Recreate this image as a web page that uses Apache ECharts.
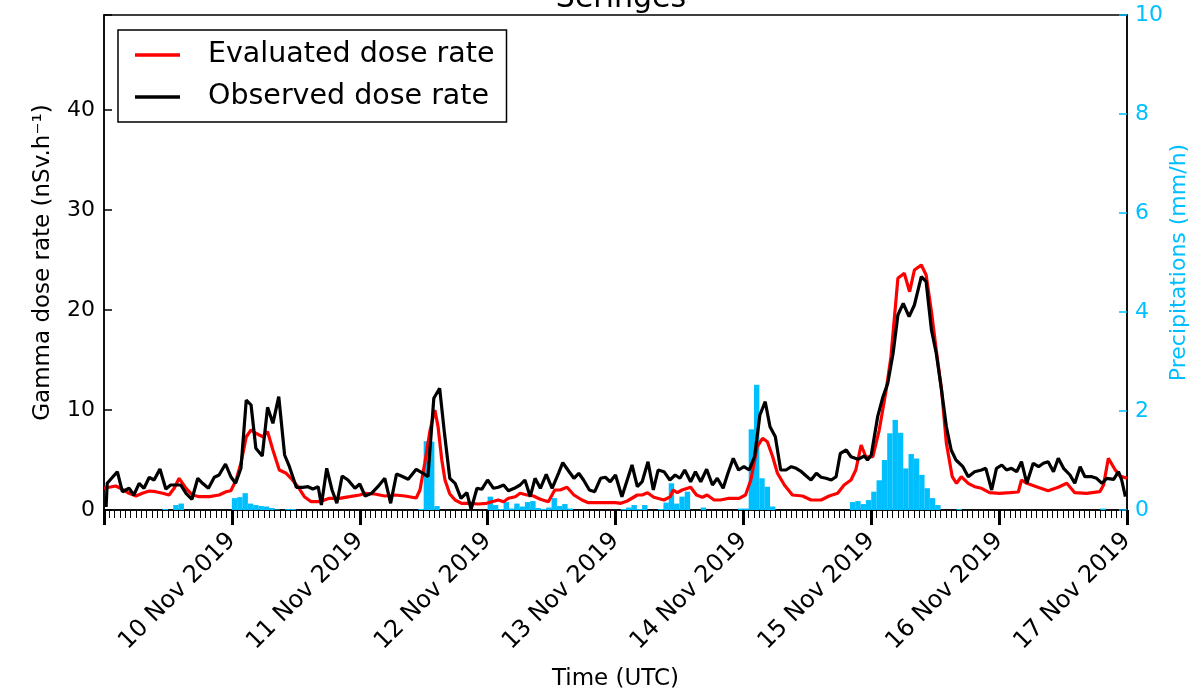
<!DOCTYPE html>
<html>
<head>
<meta charset="utf-8">
<script src="https://cdn.jsdelivr.net/npm/echarts@6/dist/echarts.min.js"></script>
<style>
  html, body { margin: 0; background: #fff; }
  #chart { width: 1190px; height: 690px; }
</style>
</head>
<body>
<div id="chart"></div>
<script>
// hours since 9 Nov 2019 00:00 UTC
const dayLabels = ['', '10 Nov 2019', '11 Nov 2019', '12 Nov 2019', '13 Nov 2019',
  '14 Nov 2019', '15 Nov 2019', '16 Nov 2019', '17 Nov 2019'];

// evaluated dose rate, nSv/h  [hour, value]
const evaluated = [
  [0,2.17],[2.2,2.4],[3.45,2.07],[4.7,1.67],[6,1.4],[7.2,1.67],[8.5,1.9],[9.7,1.83],[11,1.67],[12.2,1.5],
  [13.2,2.2],[14.1,3.17],[15.4,2.17],[16.6,1.5],[17.9,1.33],[19.8,1.33],[21.6,1.5],[22.9,1.83],[23.8,1.93],
  [24.8,3.0],[25.7,4.67],[26.7,7.33],[27.6,8.0],[28.5,7.67],[29.8,7.33],[30.7,7.83],[31.7,6.0],[32.9,4.0],
  [34.2,3.67],[35.1,3.17],[36.4,2.33],[37.6,1.33],[38.9,0.83],[40.5,0.83],[42.3,1.17],[44.2,1.17],[46.1,1.33],
  [48,1.5],[49,1.67],[50.8,1.6],[52.7,1.4],[54.6,1.5],[56.5,1.4],[58.6,1.2],[59.3,2.0],[60.2,4.67],[61.2,8.0],
  [62.1,10.0],[62.7,8.33],[63.4,5.0],[64,3.0],[64.9,1.6],[65.9,1.0],[67.1,0.67],[68.7,0.67],[70.3,0.6],
  [71.8,0.67],[72.8,0.83],[74,1.0],[75,0.83],[75.9,1.17],[77.2,1.33],[78.1,1.67],[79.4,1.5],[80.6,1.4],
  [81.9,1.07],[83.4,0.83],[84.6,2.0],[85.6,2.0],[86.9,2.27],[88.2,1.5],[89.7,1.0],[90.9,0.73],[93.5,0.73],
  [96,0.73],[97,0.67],[98.2,0.9],[100.1,1.5],[101,1.5],[102,1.73],[103.2,1.27],[105.1,1.0],[106.3,1.33],
  [106.8,2.0],[107.6,1.73],[108.5,2.0],[110.1,2.27],[111.2,1.5],[112.3,1.27],[113.2,1.5],[114.5,1.0],
  [115.7,1.0],[117.3,1.17],[119.2,1.17],[120.4,1.5],[121.4,3.0],[122.6,6.33],[123.6,7.17],[124.5,6.83],
  [125.5,5.33],[126.4,3.67],[127.7,2.5],[129.2,1.5],[131.1,1.4],[132.7,1.0],[134.6,1.0],[136.1,1.4],
  [137.7,1.67],[138.9,2.5],[140.2,3.0],[141.1,4.0],[142.1,6.5],[143,5.3],[144.3,5.33],[145.5,8.0],
  [146.8,12.0],[147.7,15.33],[149,23.17],[150.2,23.67],[151.2,21.83],[152.1,24.0],[153.4,24.5],[154.3,23.5],
  [155.3,19.83],[156.2,16.0],[157.2,12.0],[158.1,6.67],[159.2,3.33],[160,2.67],[160.9,3.33],[162.2,2.67],
  [163.4,2.33],[164.7,2.17],[166.2,1.73],[168.1,1.67],[170,1.73],[171.6,1.8],[172.2,3.0],[173.2,2.67],
  [175,2.33],[177.2,1.93],[179.1,2.27],[180.7,2.67],[182.2,1.73],[184.4,1.67],[186.9,1.83],[187.6,2.5],
  [188.5,5.17],[189.8,4.0],[190.7,3.4],[192,3.17]
];

// observed dose rate, nSv/h  [hour, value]
const observed = [
  [0.4,0.3],[0.6,2.67],[2.5,3.83],[3.45,1.83],[4.7,2.17],[5.6,1.5],[6.6,2.67],[7.5,2.17],[8.5,3.27],[9.4,3.0],
  [10.5,4.1],[11.6,2.1],[12.5,2.5],[13.5,2.5],[14.4,2.5],[15.4,1.67],[16.5,1.07],[17.6,3.17],[18.5,2.67],
  [19.6,2.17],[20.7,3.27],[21.6,3.5],[22.8,4.6],[23.8,3.33],[24.7,2.67],[25.7,4.17],[26.7,11.0],[27.6,10.5],
  [28.5,6.17],[29.7,5.4],[30.7,10.27],[31.7,8.67],[32.8,11.33],[33.9,5.5],[34.8,4.33],[36.1,2.27],[37.3,2.27],
  [38.3,2.33],[39.2,2.1],[40.2,2.33],[40.8,0.5],[41.8,4.17],[42.8,2.0],[43.7,0.67],[44.7,3.4],[45.8,3.0],
  [47.1,2.17],[48,2.6],[49,1.4],[50.2,1.67],[51.4,2.33],[52.7,3.17],[53.8,0.67],[54.9,3.6],[55.8,3.4],
  [57.1,3.07],[58.6,4.07],[59.9,3.67],[60.8,3.33],[61.9,11.17],[63,12.17],[63.9,7.67],[64.9,3.17],[65.9,2.67],
  [67,1.17],[68.1,1.73],[68.9,0.07],[70,2.17],[70.9,2.07],[72,3.0],[73.1,2.17],[74,2.27],[75,2.5],[75.9,1.93],
  [77,2.17],[78.1,2.5],[79,3.0],[80,1.33],[80.9,3.17],[81.9,2.17],[83,3.57],[84.1,2.17],[85.3,3.67],[86.1,4.73],
  [87.3,3.83],[88.2,3.17],[89.1,3.67],[90,3.0],[91.1,2.0],[92.1,1.83],[93.2,3.17],[94.1,3.27],[95,2.83],
  [96,3.5],[97.2,1.33],[98.2,3.0],[99.1,4.5],[100.1,2.33],[101,2.83],[102.1,4.83],[103.1,2.0],[104,4.0],
  [105.1,3.83],[106.2,3.0],[107.2,3.5],[108.1,3.17],[109,4.0],[110.1,2.83],[111,3.83],[112,2.83],[113.1,4.07],
  [114.2,2.5],[115.1,3.17],[116.2,2.17],[117.1,3.67],[118.1,5.17],[119.1,4.0],[120.1,4.33],[121.1,4.0],
  [122.1,5.33],[123.1,9.5],[124.1,10.83],[125,8.33],[126,7.33],[127,4.0],[128,4.0],[129,4.33],[129.9,4.17],
  [130.9,3.83],[131.8,3.4],[132.7,3.0],[133.7,3.67],[134.6,3.27],[135.5,3.17],[136.5,3.0],[137.4,3.33],
  [138.2,5.67],[139.3,6.0],[140.2,5.33],[141.5,5.07],[142.7,5.4],[143.3,5.0],[144,5.5],[145.2,9.33],
  [146.2,11.33],[147.1,12.67],[148.1,15.67],[149,19.5],[150,20.67],[151.1,19.33],[152.1,20.5],[153.4,23.33],
  [154.3,22.83],[155.3,18.0],[156.2,15.67],[157.1,12.33],[158.1,8.33],[159,6.0],[159.9,5.0],[161.2,4.33],
  [162.2,3.33],[163.4,3.83],[164.7,4.0],[165.5,4.17],[166.6,2.0],[167.5,4.17],[168.5,4.5],[169.4,4.0],
  [170.3,4.17],[171.3,3.83],[172.2,4.83],[173.2,2.67],[174.4,4.67],[175.4,4.33],[176.3,4.67],[177.2,4.83],
  [178.2,3.83],[179.1,5.17],[180.1,4.17],[181.3,3.5],[182.2,2.67],[183.2,4.33],[184.1,3.33],[185.4,3.33],
  [186.3,3.17],[187.3,2.67],[188.2,3.17],[189.5,3.07],[190.4,3.83],[191,3.0],[191.7,1.33]
];

// hourly precipitation, mm/h (one value per hour, from hour 0)
const rain = [
  0,0,0,0,0,0,0,0,0,0,0,0.02,0,0.1,0.13,0,0,0,0,0,0,0,0,0,
  0.24,0.26,0.34,0.13,0.1,0.08,0.07,0.04,0.01,0,0.02,0.02,0,0,0,0,0,0,0,0,0,0,0,0,
  0,0,0,0,0,0,0,0,0,0,0,0.02,1.39,1.38,0.08,0,0,0,0,0,0,0,0,0,
  0.27,0.1,0.02,0.16,0.03,0.13,0.07,0.16,0.18,0.04,0.02,0.05,0.24,0.08,0.12,0.03,0,0,0,0,0,0,0,0,
  0,0.02,0.05,0.1,0.02,0.1,0,0,0.02,0.15,0.54,0.13,0.27,0.37,0,0,0.05,0,0,0,0,0,0,0.03,
  0.03,1.63,2.53,0.64,0.47,0.07,0,0,0,0,0,0,0,0,0,0,0,0,0,0,0.16,0.18,0.12,0.2,
  0.37,0.6,1.01,1.55,1.82,1.56,0.84,1.13,1.04,0.71,0.44,0.24,0.1,0,0,0,0.02,0,0,0,0,0,0,0,
  0,0,0,0,0,0,0,0,0,0,0,0,0,0,0,0,0,0,0,0.03,0,0,0,0
];

const font = 'DejaVu Sans';
const rainColor = '#00bfff';

const chart = echarts.init(document.getElementById('chart'));

chart.setOption({
  animation: false,
  textStyle: { fontFamily: font },
  title: {
    text: 'Seringes',
    left: 616,
    top: -21,
    textAlign: 'center',
    textStyle: { fontFamily: font, fontSize: 30, fontWeight: 'normal', color: '#000' }
  },
  legend: {
    data: ['Evaluated dose rate', 'Observed dose rate'],
    orient: 'vertical',
    left: 118,
    top: 30,
    icon: 'rect',
    itemWidth: 45,
    itemHeight: 3.5,
    itemGap: 8,
    padding: [8, 12, 8, 17],
    borderColor: '#000',
    borderWidth: 1.5,
    borderRadius: 0,
    textStyle: { fontFamily: font, fontSize: 28.5, lineHeight: 34, color: '#000', padding: [0, 0, 0, 23] }
  },
  grid: {
    left: 104, right: 63, top: 15, bottom: 180,
    outerBoundsMode: 'none',
    containLabel: false,
    show: true, borderColor: '#000', borderWidth: 1.5
  },
  xAxis: {
    type: 'value',
    min: 0, max: 192, interval: 24,
    name: 'Time (UTC)',
    nameLocation: 'middle',
    nameGap: 158,
    nameMoveOverlap: false,
    nameTextStyle: { fontFamily: font, fontSize: 23, color: '#000' },
    axisLine: { lineStyle: { color: '#000', width: 1.5 } },
    axisTick: { length: 15, lineStyle: { color: '#000', width: 3 } },
    minorTick: { show: true, splitNumber: 24, length: 8, lineStyle: { color: '#000', width: 1 } },
    splitLine: { show: false },
    minorSplitLine: { show: false },
    axisLabel: {
      rotate: 45, margin: 27, fontSize: 24, color: '#000', fontFamily: font,
      formatter: v => dayLabels[v / 24] || ''
    }
  },
  yAxis: [
    {
      type: 'value',
      min: 0, max: 49.5, interval: 10,
      name: 'Gamma dose rate (nSv.h⁻¹)',
      nameLocation: 'middle',
      nameGap: 49,
      nameMoveOverlap: false,
      nameTextStyle: { fontFamily: font, fontSize: 23, color: '#000' },
      axisLine: { show: true, lineStyle: { color: '#000', width: 1.5 } },
      axisTick: { inside: true, length: 8, lineStyle: { color: '#000', width: 1.5 } },
      splitLine: { show: false },
      axisLabel: {
        margin: 9, fontSize: 22, color: '#000', fontFamily: font,
        formatter: v => (v % 10 === 0 ? String(v) : '')
      }
    },
    {
      type: 'value',
      position: 'right',
      min: 0, max: 10, interval: 2,
      name: 'Precipitations (mm/h)',
      nameLocation: 'middle',
      nameGap: 41,
      nameMoveOverlap: false,
      nameTextStyle: { fontFamily: font, fontSize: 22, color: rainColor },
      axisLine: { show: true, lineStyle: { color: '#000', width: 1.5 } },
      axisTick: { inside: true, length: 8, lineStyle: { color: rainColor, width: 1.5 } },
      splitLine: { show: false },
      axisLabel: { margin: 8, fontSize: 22, color: rainColor, fontFamily: font }
    }
  ],
  series: [
    {
      name: 'Precipitations',
      type: 'bar',
      yAxisIndex: 1,
      barWidth: 5.4,
      itemStyle: { color: rainColor },
      data: rain.map((v, i) => [i + 0.5, v]),
      z: 1
    },
    {
      name: 'Evaluated dose rate',
      type: 'line',
      symbol: 'none',
      lineStyle: { color: '#ff0000', width: 3.2 },
      itemStyle: { color: '#ff0000' },
      data: evaluated,
      z: 2
    },
    {
      name: 'Observed dose rate',
      type: 'line',
      symbol: 'none',
      lineStyle: { color: '#000', width: 3.2 },
      itemStyle: { color: '#000' },
      data: observed,
      z: 3
    }
  ]
});
</script>
</body>
</html>
